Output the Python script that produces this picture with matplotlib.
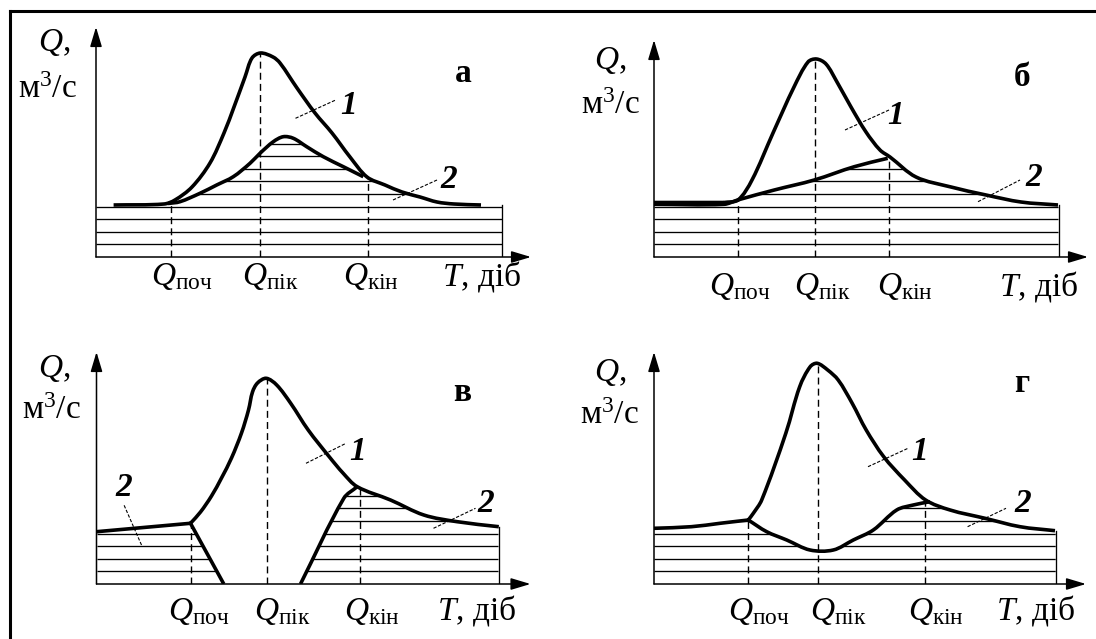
import matplotlib.pyplot as plt
import numpy as np
from matplotlib.path import Path
from matplotlib.patches import PathPatch

plt.rcParams['font.family'] = ['Liberation Serif', 'DejaVu Serif']
plt.rcParams['mathtext.fontset'] = 'custom'
plt.rcParams['mathtext.rm'] = 'Liberation Serif'
plt.rcParams['mathtext.it'] = 'Liberation Serif:italic'
plt.rcParams['mathtext.bf'] = 'Liberation Serif:bold'

# Hydrograph schemes (units are arbitrary: x - time, y - discharge)
# а
a_flood_x = [17.6, 68, 79, 96, 114, 128, 138, 149, 156, 164.5, 177, 184, 201, 219, 236, 254, 271, 289, 306, 324, 341, 358, 385]
a_flood_y = [52, 53, 57, 70, 94, 124, 150, 180, 199, 204, 200, 194, 169, 144, 124, 100, 80, 72, 65, 60, 55, 53, 52]
a_base_x = [72, 84, 104, 120.7, 137.3, 154, 164, 177.3, 187.3, 197.3, 210.7, 227.3, 247.3, 267.3]
a_base_y = [53.5, 55.3, 63.7, 72, 80.3, 93.7, 103.7, 115.3, 120.3, 118.7, 110.3, 100.3, 90.3, 80.3]
a_marks = [74.7, 164, 272]

# б
b_flood_x = [0, 70, 84, 98, 119, 140, 154, 162.5, 172, 183, 197, 212, 226, 236, 262, 297, 332, 367, 404]
b_flood_y = [54.5, 54.5, 57, 77, 124, 170, 195, 198, 193, 175, 150, 125, 107, 100, 80, 70, 62, 55, 52]
b_base_x = [0, 70, 83.7, 120.3, 160.3, 200.3, 233.7]
b_base_y = [52.7, 52.7, 57, 67, 77, 90.3, 98.7]
b_marks = [83.7, 161, 235.3]

# в
c_flood_x = [0, 94, 104, 115, 125, 135, 145, 152, 156, 161, 169.7, 180.2, 194.2, 211.7, 232.7, 246.7, 260.7, 294, 327.3, 360.7, 402.3]
c_flood_y = [52.3, 60.7, 72, 88, 106, 126, 151, 174, 192, 201, 205.7, 199, 180.7, 154, 127.3, 110.7, 97.3, 84, 69, 62.3, 57.3]
c_base_x = [94, 127.3, np.nan, 204, 247.3, 260.7]
c_base_y = [60.7, 0, np.nan, 0, 85.7, 97.3]
c_marks = [94, 170, 263.3]

# г
d_flood_x = [0, 37.4, 66, 94.3, 99.3, 107.7, 131.8, 145.7, 156.2, 163.2, 173.7, 184.2, 198.2, 212.2, 229.7, 250.6, 271.6, 296.1, 331, 366, 401]
d_flood_y = [55.7, 57.3, 60.7, 64, 70.7, 84, 150.7, 197.3, 217.3, 220.7, 214, 204, 180.7, 154, 127.3, 104, 84, 74, 65.7, 57.3, 53.3]
d_base_x = [94.3, 112.7, 132.7, 156, 179.3, 199.3, 219.3, 242.7, 259.3, 276]
d_base_y = [64, 52.3, 44, 34, 34, 44, 54, 74, 79, 82.3]
d_marks = [93.7, 164.3, 271]

mark_labels = [r'$Q_{\mathrm{поч}}$', r'$Q_{\mathrm{пік}}$', r'$Q_{\mathrm{кін}}$']

W_FIG, H_FIG = 1096, 639
HATCH_STEP = 12.6
CURVE_LW = 2.6
FS = 24

panels = [
    dict(letter='а', flood=(a_flood_x, a_flood_y), base=(a_base_x, a_base_y), marks=a_marks, kinks=[],
         origin=(96, 257), size=(435, 230), right=406,
         q_pos=(-42, 214), unit_pos=(-49, 167), letter_pos=(367, 184),
         ones=[((253, 152), (199.5, 138.7), (239.7, 157))],
         twos=[((353, 78), (297, 57), (341, 77))],
         xl_y=-28, xl_x=[54.7, 145.7, 247, 345.7]),
    dict(letter='б', flood=(b_flood_x, b_flood_y), base=(b_base_x, b_base_y), marks=b_marks, kinks=[70],
         origin=(654, 257), size=(434, 217), right=404.5,
         q_pos=(-44, 196), unit_pos=(-43.5, 151), letter_pos=(368.5, 179),
         ones=[((242, 141), (191, 127), (235, 147))],
         twos=[((380, 79), (324, 55.3), (366, 77))],
         xl_y=-38, xl_x=[55, 140.5, 223, 345]),
    dict(letter='в', flood=(c_flood_x, c_flood_y), base=(c_base_x, c_base_y), marks=c_marks, kinks=[94],
         origin=(96.5, 584), size=(434, 232), right=402,
         q_pos=(-42.5, 215), unit_pos=(-45, 173), letter_pos=(365.5, 191.5),
         ones=[((261.5, 132), (209.5, 120.7), (249.5, 140.7))],
         twos=[((27.5, 96.5), (45, 39), (27.5, 79)), ((389.5, 81), (337, 55.7), (379, 75.7))],
         xl_y=-36, xl_x=[71.5, 157, 247.5, 340.5]),
    dict(letter='г', flood=(d_flood_x, d_flood_y), base=(d_base_x, d_base_y), marks=d_marks, kinks=[94.3],
         origin=(654, 584), size=(432, 232), right=401.7,
         q_pos=(-44, 212), unit_pos=(-44.5, 168), letter_pos=(368, 200),
         ones=[((266, 132), (214, 117.3), (254, 135.7))],
         twos=[((369, 80), (313.6, 57.3), (352, 75.7))],
         xl_y=-36, xl_x=[74, 156, 254, 341.5]),
]


def spline_path(xs, ys, kinks=()):
    """Smooth curve through the points (chord-length Catmull-Rom as cubic Beziers).
    NaN breaks the line, x values listed in kinks keep a sharp corner."""
    xs, ys = np.asarray(xs, float), np.asarray(ys, float)
    pieces, cur = [], []
    for x, y in zip(xs, ys):
        if np.isnan(x):
            if cur:
                pieces.append(cur)
            cur = []
            continue
        cur.append((x, y))
        if any(np.isclose(x, k) for k in kinks) and len(cur) > 1:
            pieces.append(cur)
            cur = [(x, y)]
    if len(cur) > 1:
        pieces.append(cur)

    verts, codes = [], []
    for piece in pieces:
        P = np.array(piece)
        verts.append(P[0])
        codes.append(Path.MOVETO)
        if len(P) == 2:
            verts.append(P[1])
            codes.append(Path.LINETO)
            continue
        t = np.concatenate([[0], np.cumsum(np.hypot(*np.diff(P, axis=0).T))])
        m = np.empty_like(P)
        m[1:-1] = (P[2:] - P[:-2]) / (t[2:] - t[:-2])[:, None]
        m[0] = (P[1] - P[0]) / (t[1] - t[0])
        m[-1] = (P[-1] - P[-2]) / (t[-1] - t[-2])
        for i in range(len(P) - 1):
            d = t[i + 1] - t[i]
            verts += [P[i] + m[i] * d / 3, P[i + 1] - m[i + 1] * d / 3, P[i + 1]]
            codes += [Path.CURVE4] * 3
    return Path(verts, codes)


def flat_points(path):
    polys = path.to_polygons(closed_only=False)
    return [np.asarray(p) for p in polys]


def draw_panel(fig, p):
    ox, oy = p['origin']
    w, h = p['size']
    ax = fig.add_axes([ox / W_FIG, (H_FIG - oy) / H_FIG, w / W_FIG, h / H_FIG])
    ax.set_xlim(0, w)
    ax.set_ylim(0, h)
    ax.axis('off')

    fx, fy = p['flood']
    bx, by = p['base']
    right = p['right']

    flood_path = spline_path(fx, fy, p['kinks'])
    base_path = spline_path(bx, by)
    flood_pts = np.vstack(flat_points(flood_path))
    base_pts = np.vstack(flat_points(base_path))

    # outline of the baseflow (2) area: flood curve before and after the separation line
    head = flood_pts[flood_pts[:, 0] < base_pts[0, 0]]
    tail = flood_pts[flood_pts[:, 0] > base_pts[-1, 0]]
    outline = np.vstack([head, base_pts, tail])
    outline = np.vstack([[0, outline[0, 1]], outline, [right, outline[-1, 1]]])
    verts = [(x, y + 0.9) for x, y in outline] + [(right, 0), (0, 0), (0, outline[0, 1] + 0.9)]
    clip = PathPatch(Path(verts), transform=ax.transData, facecolor='none', edgecolor='none')
    ax.add_patch(clip)
    for lev in np.arange(HATCH_STEP, max(fy), HATCH_STEP):
        ln, = ax.plot([0, right], [lev, lev], color='black', lw=0.95, solid_capstyle='butt')
        ln.set_clip_path(clip)
    ax.plot([right, right], [0, outline[-1, 1]], color='black', lw=0.95)

    # dashed verticals at start, peak and end of the flood
    order = np.argsort(flood_pts[:, 0])
    for m in p['marks']:
        top = np.interp(m, flood_pts[order, 0], flood_pts[order, 1])
        ax.plot([m, m], [0, top], color='black', lw=1.0, dashes=(5, 3))

    for path in (flood_path, base_path):
        ax.add_patch(PathPatch(path, facecolor='none', edgecolor='black', lw=CURVE_LW,
                               joinstyle='round', capstyle='butt'))

    # axes with arrows
    arrow = dict(arrowstyle='-|>,head_length=0.6,head_width=0.18', color='black', lw=1.1,
                 mutation_scale=20, shrinkA=0, shrinkB=0)
    ax.annotate('', xy=(w, 0), xytext=(0, 0), arrowprops=arrow, annotation_clip=False)
    ax.annotate('', xy=(0, h), xytext=(0, 0), arrowprops=arrow, annotation_clip=False)

    ax.text(*p['q_pos'], r'$Q$,', fontsize=FS, ha='center', va='center')
    ax.text(*p['unit_pos'], r'м$^3$/с', fontsize=FS, ha='center', va='center')
    ax.text(*p['letter_pos'], p['letter'], fontsize=FS, fontweight='bold', ha='center', va='center')

    for (tx, ty), (x0, y0), (x1, y1) in p['ones']:
        ax.plot([x0, x1], [y0, y1], color='black', lw=0.8, dashes=(3, 1.5))
        ax.text(tx, ty, '1', fontsize=FS, fontweight='bold', fontstyle='italic', ha='center', va='center')
    for (tx, ty), (x0, y0), (x1, y1) in p['twos']:
        ax.plot([x0, x1], [y0, y1], color='black', lw=0.8, dashes=(3, 1.5))
        ax.text(tx, ty, '2', fontsize=FS, fontweight='bold', fontstyle='italic', ha='center', va='center')

    for x, lab in zip(p['xl_x'][:3], mark_labels):
        ax.text(x, p['xl_y'], lab, fontsize=FS, ha='left', va='baseline')
    ax.text(p['xl_x'][3], p['xl_y'], r'$T$, діб', fontsize=FS, ha='left', va='baseline')


fig = plt.figure(figsize=(W_FIG / 100, H_FIG / 100), dpi=100)
frame = fig.add_axes([0, 0, 1, 1])
frame.set_xlim(0, W_FIG)
frame.set_ylim(H_FIG, 0)
frame.axis('off')
frame.plot([9.5, W_FIG], [11.3, 11.3], color='black', lw=2.2, solid_capstyle='projecting')
frame.plot([9.5, 9.5], [11.3, H_FIG], color='black', lw=2.2, solid_capstyle='projecting')

for p in panels:
    draw_panel(fig, p)

fig.savefig('out.png', dpi=100)
